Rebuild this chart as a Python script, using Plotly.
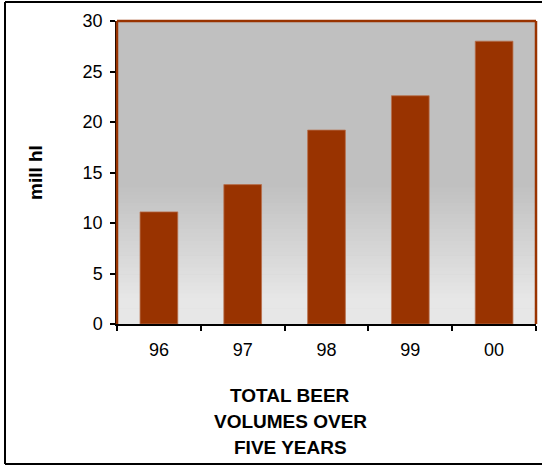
import plotly.graph_objects as go

categories = ["96", "97", "98", "99", "00"]
volumes = [11.1, 13.8, 19.2, 22.6, 28.0]
y_ticks = [0, 5, 10, 15, 20, 25, 30]
title_lines = ["TOTAL BEER", "VOLUMES OVER", "FIVE YEARS"]

FONT = "Liberation Sans, Arial, sans-serif"
BROWN = "#993300"

W, H = 542, 472
L, R, T, B = 117, 6, 21, 148
pw, ph = W - L - R, H - T - B


def px_x(x):
    return (x - L) / pw


def px_y(y):
    return (H - B - y) / ph


fig = go.Figure()
fig.add_trace(go.Bar(
    x=categories, y=volumes, width=0.45,
    marker=dict(color=BROWN, line=dict(color="#b8704d", width=0.8)),
    hoverinfo="x+y",
))

shapes = []
# vertical gradient background (grey top -> light bottom)
n = 80
for i in range(n):
    y0 = i / n
    y1 = (i + 1) / n
    ypix = H - B - (y0 + y1) / 2 * ph
    if ypix <= 185:
        g = 192
    elif ypix >= 300:
        g = 231
    else:
        t = (ypix - 185) / (300 - 185)
        g = 192 + (231 - 192) * t
    g = int(round(g))
    shapes.append(dict(type="rect", xref="paper", yref="paper", x0=0, x1=1,
                       y0=y0, y1=y1 + 0.002, line=dict(width=0),
                       fillcolor=f"rgb({g},{g},{g})", layer="below"))
# brown frame top, right, left
for (x0, x1, y0, y1) in [(0, 1, 1, 1), (1, 1, 0, 1), (0, 0, 0, 1)]:
    shapes.append(dict(type="line", xref="paper", yref="paper", x0=x0, x1=x1,
                       y0=y0, y1=y1, line=dict(color=BROWN, width=2.5)))
# outer black frame: top, left, bottom (right edge lies outside the picture)
fx0, fx1, fy_top, fy_bot = px_x(5), px_x(560), px_y(2), px_y(464)
for (x0, x1, y0, y1) in [(fx0, fx1, fy_top, fy_top), (fx0, fx0, fy_bot, fy_top),
                         (fx0, fx1, fy_bot, fy_bot)]:
    shapes.append(dict(type="line", xref="paper", yref="paper", x0=x0, x1=x1,
                       y0=y0, y1=y1, line=dict(color="black", width=2)))

annotations = [dict(text="<b>mill hl</b>", textangle=-90, xref="paper", yref="paper",
                    x=px_x(35), y=px_y(173), showarrow=False,
                    font=dict(family=FONT, size=19, color="black"),
                    xanchor="center", yanchor="middle")]
for line, yc in zip(title_lines, [395, 421, 447]):
    annotations.append(dict(text=f"<b>{line}</b>", xref="paper", yref="paper",
                            x=px_x(290), y=px_y(yc), showarrow=False,
                            font=dict(family=FONT, size=19, color="black"),
                            xanchor="center", yanchor="middle"))

fig.update_layout(
    width=W, height=H,
    margin=dict(l=L, r=R, t=T, b=B, pad=0),
    paper_bgcolor="white", plot_bgcolor="rgb(192,192,192)",
    showlegend=False, bargap=0.55,
    shapes=shapes, annotations=annotations,
    font=dict(family=FONT, size=18, color="black"),
)
fig.update_xaxes(
    type="category", showline=True, linecolor="black", linewidth=1.5,
    ticks="outside", tickson="boundaries", ticklen=5, tickcolor="black",
    tickwidth=1.5, showgrid=False, tickfont=dict(size=18), zeroline=False,
    ticklabelstandoff=9,
)
fig.update_yaxes(
    range=[0, 30], tickvals=y_ticks, showline=True, linecolor="black",
    linewidth=1.5, ticks="outside", ticklen=5, tickcolor="black", tickwidth=1.5,
    showgrid=False, zeroline=False, tickfont=dict(size=18), ticklabelstandoff=4,
)

fig.write_html(
    "out.html", config={"displayModeBar": False},
    post_script=("document.body.style.margin='0';"
                 "document.body.style.overflow='hidden';"
                 "document.documentElement.style.overflow='hidden';"),
)
